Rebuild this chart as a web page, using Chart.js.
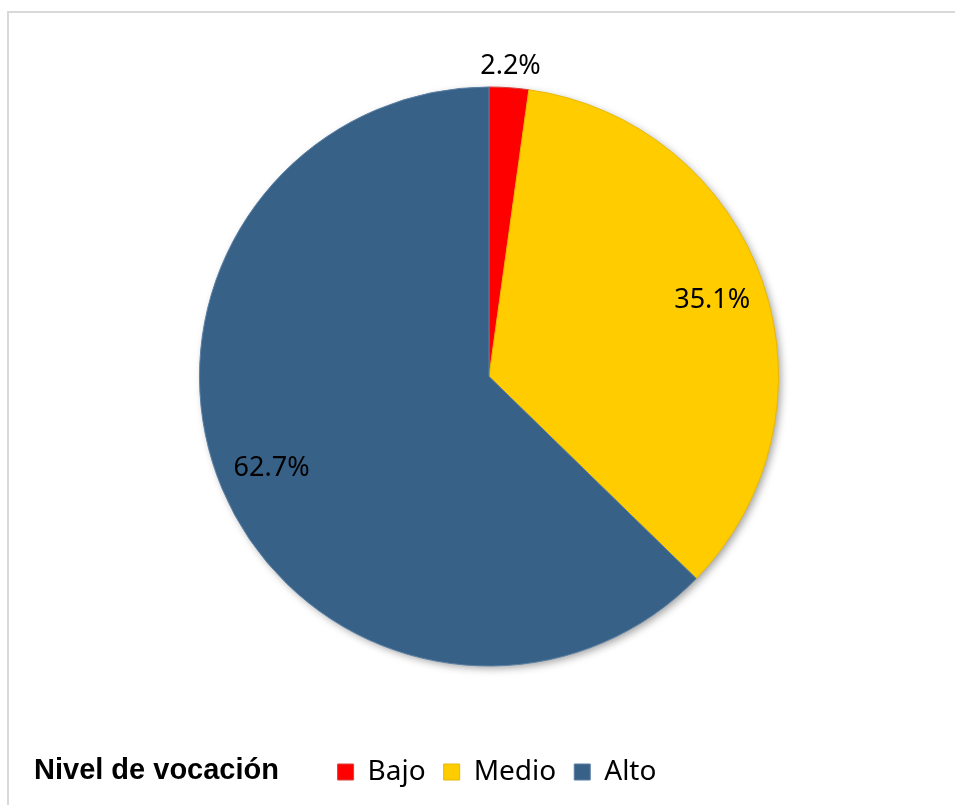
<!DOCTYPE html>
<html>
<head>
<meta charset="utf-8">
<script src="https://cdn.jsdelivr.net/npm/chart.js@4"></script>
<style>
  html, body { margin: 0; padding: 0; background: #fff; }
  #wrap { width: 955px; height: 805px; }
</style>
</head>
<body>
<div id="wrap"><canvas id="pieChart" width="955" height="805"></canvas></div>
<script>
const categories = ['Bajo', 'Medio', 'Alto'];
const percentages = [2.2, 35.1, 62.7];
const sliceColors = ['#FF0000', '#FFCC00', '#386188'];
const legendTitle = 'Nivel de vocación';

// frame line along top and left
const framePlugin = {
    id: 'frame',
    afterLayout(chart) {
        // legend sits a bit right of the pie centre in the original
        chart.legend.left += 8;
        chart.legend.right += 8;
    },
    beforeDraw(chart) {
        const ctx = chart.ctx;
        ctx.save();
        ctx.strokeStyle = '#d9d9d9';
        ctx.lineWidth = 2;
        ctx.beginPath();
        ctx.moveTo(8, 805);
        ctx.lineTo(8, 12);
        ctx.lineTo(955, 12);
        ctx.stroke();
        ctx.restore();
    }
};

// soft shadow under the whole pie
const shadowPlugin = {
    id: 'pieShadow',
    beforeDatasetsDraw(chart) {
        const arc = chart.getDatasetMeta(0).data[0];
        if (!arc) return;
        const ctx = chart.ctx;
        ctx.save();
        ctx.shadowColor = 'rgba(0,0,0,0.4)';
        ctx.shadowBlur = 8;
        ctx.shadowOffsetX = 3;
        ctx.shadowOffsetY = 3;
        ctx.fillStyle = '#386188';
        ctx.beginPath();
        ctx.arc(arc.x, arc.y, arc.outerRadius - 1, 0, Math.PI * 2);
        ctx.fill();
        ctx.restore();
    }
};

// percentage labels, small slices pushed outside
const labelPlugin = {
    id: 'sliceLabels',
    afterDatasetsDraw(chart) {
        const ctx = chart.ctx;
        const meta = chart.getDatasetMeta(0);
        ctx.save();
        ctx.font = '27px "Noto Sans"';
        ctx.fillStyle = '#000';
        ctx.textAlign = 'center';
        ctx.textBaseline = 'middle';
        meta.data.forEach((arc, i) => {
            const mid = (arc.startAngle + arc.endAngle) / 2;
            const f = percentages[i] < 5 ? 1.075 : 0.815;
            const r = arc.outerRadius * f;
            ctx.fillText(percentages[i].toFixed(1) + '%', arc.x + Math.cos(mid) * r, arc.y + Math.sin(mid) * r);
        });
        // legend caption
        ctx.font = 'bold 29px "Liberation Sans"';
        ctx.textAlign = 'left';
        ctx.fillText(legendTitle, 34, 771);
        ctx.restore();
    }
};

new Chart(document.getElementById('pieChart'), {
    type: 'pie',
    data: {
        labels: categories,
        datasets: [{
            data: percentages,
            backgroundColor: sliceColors,
            borderColor: ['#d94040', '#e8b800', '#5a7fa3'],
            borderWidth: 1
        }]
    },
    options: {
        responsive: false,
        animation: false,
        events: [],
        layout: {
            padding: { top: 13, bottom: 9, left: 199, right: 176 }
        },
        plugins: {
            tooltip: { enabled: false },
            legend: {
                position: 'bottom',
                align: 'center',
                labels: {
                    color: '#000',
                    boxWidth: 16,
                    boxHeight: 16,
                    padding: 18,
                    font: { family: 'Noto Sans', size: 28 }
                }
            }
        }
    },
    plugins: [framePlugin, shadowPlugin, labelPlugin]
});
</script>
</body>
</html>
